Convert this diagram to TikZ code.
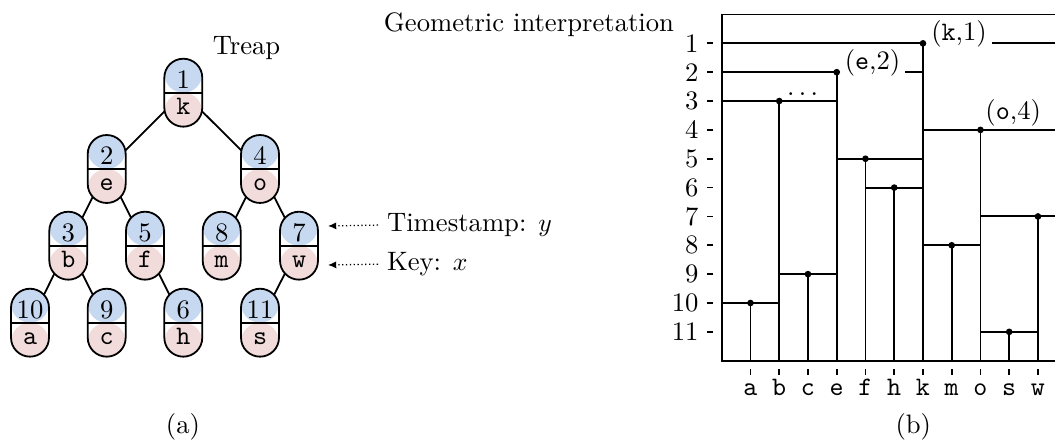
\documentclass[tikz,border=0pt]{standalone}
\usetikzlibrary{arrows.meta,backgrounds}
\definecolor{tblue}{RGB}{198,217,240}
\definecolor{tpink}{RGB}{242,220,219}
\newcommand\basefont{\fontsize{10.4}{12.5}\selectfont}
\tikzset{
  capsule/.style={draw, line width=0.7pt, rounded corners=7.4pt,
    minimum width=14.8pt, minimum height=26.5pt, inner sep=0pt, outer sep=0pt,
    path picture={
      \fill[tblue] (path picture bounding box.north west) rectangle (path picture bounding box.east);
      \fill[tpink] (path picture bounding box.west) rectangle (path picture bounding box.south east);
      \draw[line width=0.7pt] (path picture bounding box.west) -- (path picture bounding box.east);
    }},
  numtxt/.style={anchor=base, inner sep=0pt},
  keytxt/.style={anchor=base, inner sep=0pt, font=\basefont\ttfamily},
  treeedge/.style={line width=0.7pt},
  infoarrow/.style={densely dotted, line width=0.5pt, -{Latex[length=3.2pt,width=2.8pt]}},
  plotline/.style={line width=0.75pt},
  ticklbl/.style={anchor=east},
  keylbl/.style={anchor=base, font=\basefont\ttfamily},
  pointlbl/.style={inner xsep=2pt, inner ysep=1pt},
}
\newcommand\mytnode[4]{%
  \node[capsule] (#1) at (#2) {};
  \node[numtxt] (#1t) at ([yshift=1.56pt]#1.center) {#3};
  \node[keytxt] (#1k) at ([yshift=-8.4pt]#1.center) {#4};
}
\begin{document}
\begin{tikzpicture}[x=0.39pt,y=-0.39pt,font=\basefont]
\useasboundingbox (0,0) rectangle (1055,444);

% ---------- Treap ----------
\node[anchor=base] (treaplbl) at (246.5,55) {Treap};
\mytnode{n1}{183.3,92.7}{1}{k}
\mytnode{n2}{106.7,169}{2}{e}
\mytnode{n4}{260,169}{4}{o}
\mytnode{n3}{68.3,245.7}{3}{b}
\mytnode{n5}{145,245.7}{5}{f}
\mytnode{n8}{221.7,245.7}{8}{m}
\mytnode{n7}{299,245.7}{7}{w}
\mytnode{n10}{30,322.7}{10}{a}
\mytnode{n9}{106.7,322.7}{9}{c}
\mytnode{n6}{183.3,322.7}{6}{h}
\mytnode{n11}{260,322.7}{11}{s}
\begin{scope}[on background layer]
  \draw[treeedge] (n1.center) -- (n2.center);
  \draw[treeedge] (n1.center) -- (n4.center);
  \draw[treeedge] (n2.center) -- (n3.center);
  \draw[treeedge] (n2.center) -- (n5.center);
  \draw[treeedge] (n4.center) -- (n8.center);
  \draw[treeedge] (n4.center) -- (n7.center);
  \draw[treeedge] (n3.center) -- (n10.center);
  \draw[treeedge] (n3.center) -- (n9.center);
  \draw[treeedge] (n5.center) -- (n6.center);
  \draw[treeedge] (n7.center) -- (n11.center);
\end{scope}

\node[anchor=mid west] (tslbl) at (378,226) {Timestamp: $y$};
\node[anchor=mid west] (keylbl) at (378,265) {Key: $x$};
\coordinate (tsend) at (328,226);
\coordinate (keyend) at (328,265);
\draw[infoarrow] (tslbl.west) -- (tsend);
\draw[infoarrow] (keylbl.west) -- (keyend);

\node[anchor=base] (capa) at (183,433.6) {(a)};

% ---------- Geometric interpretation ----------
\node[anchor=base] (geolbl) at (529,31.7) {Geometric interpretation};
\node[anchor=base] (capb) at (913.3,433.6) {(b)};

\begin{scope}[shift={(281.463pt,-5.655pt)}, x=11.2125pt, y=-11.2515pt]
  % frame
  \draw[plotline] (11.6,0) -- (0,0) -- (0,12) -- (11.6,12);
  % horizontal segments
  \draw[plotline] (0,1) -- (11.6,1);
  \draw[plotline] (0,2) -- (7,2);
  \draw[plotline] (0,3) -- (4,3);
  \draw[plotline] (0,10) -- (2,10);
  \draw[plotline] (2,9) -- (4,9);
  \draw[plotline] (4,5) -- (7,5);
  \draw[plotline] (5,6) -- (7,6);
  \draw[plotline] (7,4) -- (11.6,4);
  \draw[plotline] (7,8) -- (9,8);
  \draw[plotline] (9,7) -- (11.6,7);
  \draw[plotline] (9,11) -- (11,11);
  % vertical segments
  \foreach \c/\r in {7/1,4/2,2/3,1/10,3/9,5/5,6/6,9/4,8/8,11/7,10/11}{
    \draw[plotline] (\c,\r) -- (\c,12);
  }
  % labels on lines
  \node[pointlbl, fill=white] (lk) at (8.254,0.676) {(\texttt{k},1)};
  \node[pointlbl, fill=white] (le) at (5.245,1.664) {(\texttt{e},2)};
  \node[pointlbl] (lo) at (10.139,3.397) {(\texttt{o},4)};
  \node[inner sep=0pt] (ldots) at (2.81,2.77) {.\kern1.7pt.\kern1.7pt.};
  % dots
  \foreach \c/\r in {7/1,4/2,2/3,1/10,3/9,5/5,6/6,9/4,8/8,11/7,10/11}{
    \fill (\c,\r) circle (1.3pt);
  }
  % y ticks
  \foreach \r in {1,...,11}{
    \draw[line width=0.7pt] (-0.511,\r) -- (-0.303,\r);
    \node[ticklbl] (yt\r) at (-0.49,\r) {\r};
  }
  % x ticks
  \foreach \c/\k in {1/a,2/b,3/c,4/e,5/f,6/h,7/k,8/m,9/o,10/s,11/w}{
    \draw[line width=0.7pt] (\c,12.29) -- (\c,12.5);
    \node[keylbl] (xt\k) at (\c,13.19) {\k};
  }
\end{scope}
\end{tikzpicture}
\end{document}
